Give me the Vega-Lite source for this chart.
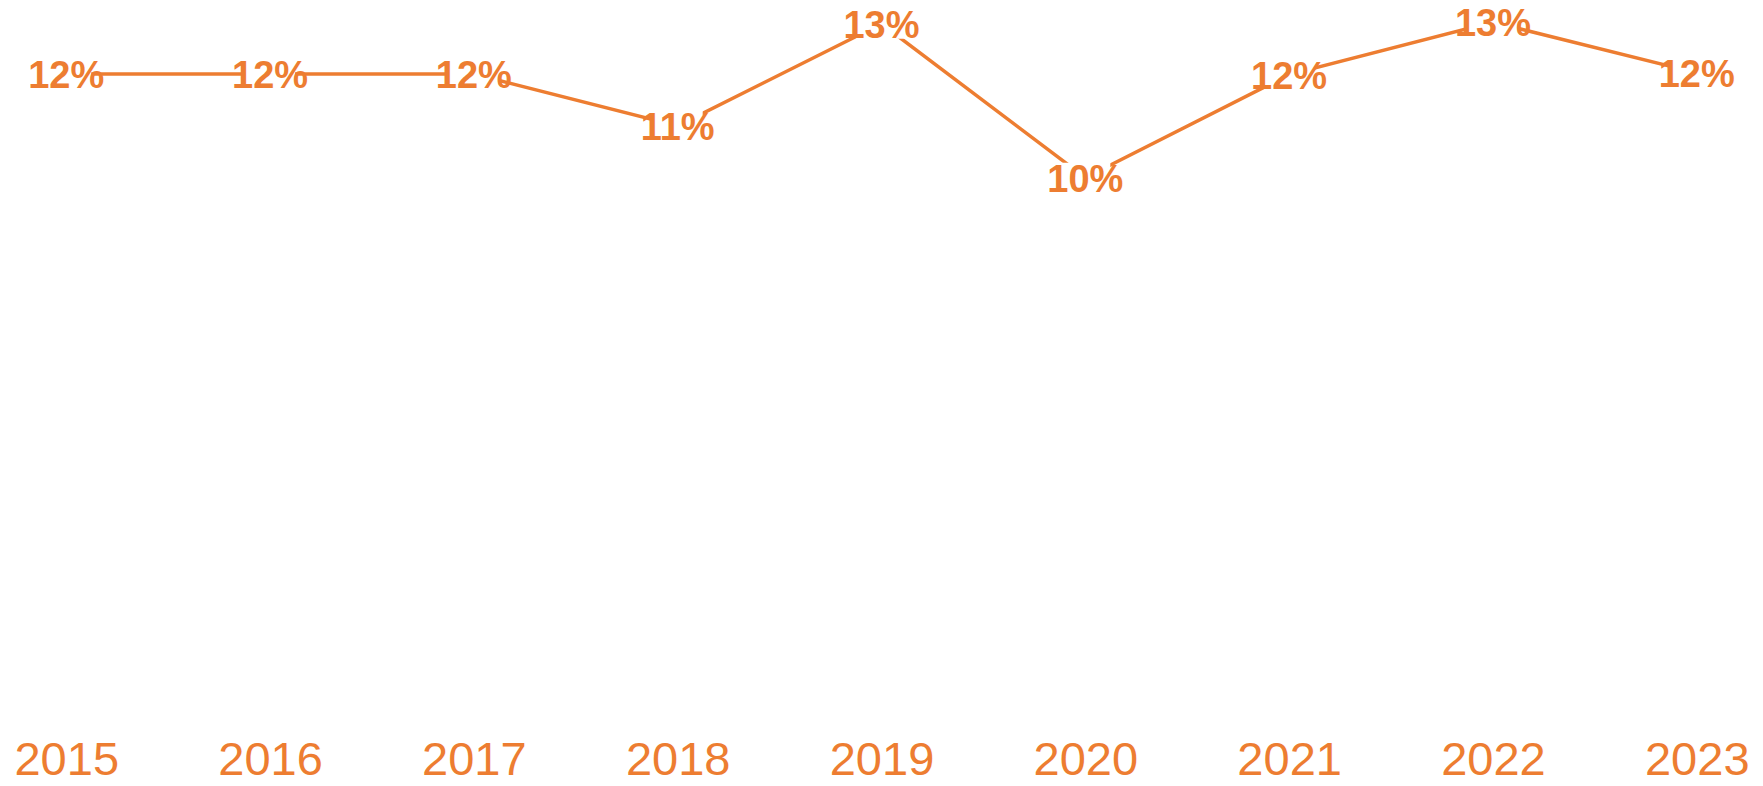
{
  "$schema": "https://vega.github.io/schema/vega-lite/v6.json",
  "width": 1763,
  "height": 726,
  "autosize": {"type": "none"},
  "padding": {"left": 0, "top": 0, "right": 0, "bottom": 60},
  "background": "white",
  "config": {"view": {"stroke": null}},
  "data": {"values": [
    {"year": "2015", "value": 0.1207},
    {"year": "2016", "value": 0.1207},
    {"year": "2017", "value": 0.1207},
    {"year": "2018", "value": 0.1111},
    {"year": "2019", "value": 0.1300},
    {"year": "2020", "value": 0.1015},
    {"year": "2021", "value": 0.1206},
    {"year": "2022", "value": 0.1303},
    {"year": "2023", "value": 0.1209}
  ]},
  "encoding": {
    "x": {"field": "year", "type": "ordinal", "scale": {"type": "point", "padding": 0.325},
      "axis": {"title": null, "domain": false, "ticks": false, "grid": false, "labelAngle": 0,
        "labelFont": "Liberation Sans", "labelFontSize": 47, "labelColor": "#ED7D31",
        "labelBaseline": "middle", "labelPadding": 34}},
    "y": {"field": "value", "type": "quantitative", "scale": {"domain": [0, 0.1344], "nice": false, "zero": true}, "axis": null}
  },
  "layer": [
    {"mark": {"type": "line", "color": "#ED7D31", "strokeWidth": 3.5}},
    {"mark": {"type": "point", "shape": "M-1,-0.6H1V0.6H-1Z", "size": 2500, "filled": true, "color": "white", "opacity": 1, "strokeWidth": 0}},
    {"mark": {"type": "text", "color": "#ED7D31", "font": "Liberation Sans", "fontSize": 38, "fontWeight": "bold", "align": "center", "baseline": "middle", "dy": 3},
     "encoding": {"text": {"field": "value", "type": "quantitative", "format": ".0%"}}}
  ]
}
